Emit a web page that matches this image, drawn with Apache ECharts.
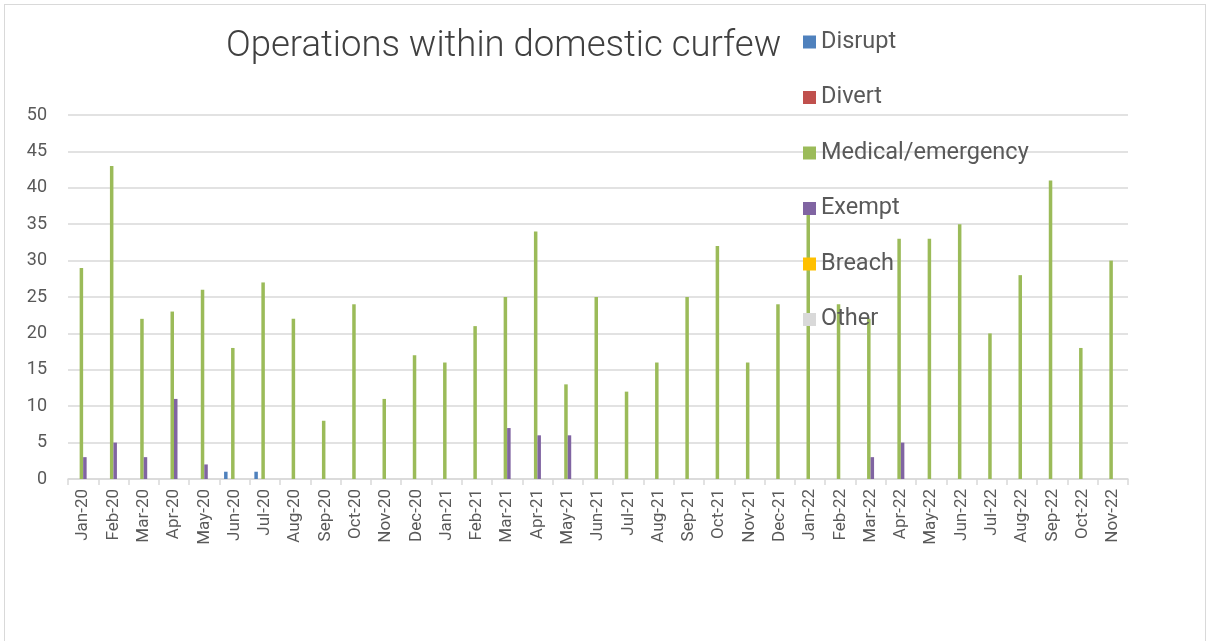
<!DOCTYPE html>
<html>
<head>
<meta charset="utf-8">
<script src="https://cdn.jsdelivr.net/npm/echarts@6/dist/echarts.min.js"></script>
<style>
html,body{margin:0;padding:0;background:#fff;overflow:hidden;}
#frame{position:absolute;left:4px;top:4px;width:1202px;height:700px;border:1px solid #d9d9d9;box-sizing:border-box;}
#chart{position:absolute;left:0;top:0;width:1208px;height:641px;}
</style>
</head>
<body>
<div id="frame"></div>
<div id="chart"></div>
<script>
const categories = ["Jan-20","Feb-20","Mar-20","Apr-20","May-20","Jun-20","Jul-20","Aug-20","Sep-20","Oct-20","Nov-20","Dec-20",
"Jan-21","Feb-21","Mar-21","Apr-21","May-21","Jun-21","Jul-21","Aug-21","Sep-21","Oct-21","Nov-21","Dec-21",
"Jan-22","Feb-22","Mar-22","Apr-22","May-22","Jun-22","Jul-22","Aug-22","Sep-22","Oct-22","Nov-22"];
const disrupt = [0,0,0,0,0,1,1,0,0,0,0,0, 0,0,0,0,0,0,0,0,0,0,0,0, 0,0,0,0,0,0,0,0,0,0,0];
const divert  = [0,0,0,0,0,0,0,0,0,0,0,0, 0,0,0,0,0,0,0,0,0,0,0,0, 0,0,0,0,0,0,0,0,0,0,0];
const medical = [29,43,22,23,26,18,27,22,8,24,11,17, 16,21,25,34,13,25,12,16,25,32,16,24, 37,24,22,33,33,35,20,28,41,18,30];
const exempt  = [3,5,3,11,2,0,0,0,0,0,0,0, 0,0,7,6,6,0,0,0,0,0,0,0, 0,0,3,5,0,0,0,0,0,0,0];
const breach  = [0,0,0,0,0,0,0,0,0,0,0,0, 0,0,0,0,0,0,0,0,0,0,0,0, 0,0,0,0,0,0,0,0,0,0,0];
const other   = [0,0,0,0,0,0,0,0,0,0,0,0, 0,0,0,0,0,0,0,0,0,0,0,0, 0,0,0,0,0,0,0,0,0,0,0];
const seriesNames = ["Disrupt","Divert","Medical/emergency","Exempt","Breach","Other"];
const seriesData = [disrupt, divert, medical, exempt, breach, other];
const colors = ["#4F81BD","#C0504D","#9BBB59","#8064A2","#FFC000","#D9D9D9"];
const yTicks = {min:0, max:50, interval:5};

const chart = echarts.init(document.getElementById('chart'), null, {renderer:'canvas'});
chart.setOption({
  animation:false,
  backgroundColor:'transparent',
  color: colors,
  title:{
    text:'Operations within domestic curfew',
    left:226, top:28, padding:0,
    textStyle:{fontFamily:'Roboto', fontWeight:300, fontSize:36.5, color:'#404040'}
  },
  legend:{
    orient:'vertical',
    left:803, top:30, padding:0,
    itemWidth:13, itemHeight:13, itemGap:31.5, itemTextGap:6,
    icon:'rect',
    data: seriesNames,
    textStyle:{fontFamily:'Roboto', fontSize:23.5, color:'#595959', lineHeight:23.5},
    z:10
  },
  grid:{left:68, right:80, top:115, bottom:162, containLabel:false},
  xAxis:{
    type:'category',
    data:categories,
    boundaryGap:true,
    axisLine:{show:true, lineStyle:{color:'#d9d9d9', width:1.5}},
    axisTick:{show:true, length:6, lineStyle:{color:'#d9d9d9', width:1.5}},
    axisLabel:{rotate:90, interval:0, margin:10, fontFamily:'Roboto', fontSize:17, color:'#595959'}
  },
  yAxis:{
    type:'value',
    min:yTicks.min, max:yTicks.max, interval:yTicks.interval,
    axisLine:{show:false},
    axisTick:{show:false},
    splitLine:{lineStyle:{color:'#d9d9d9', width:1.5}},
    axisLabel:{margin:21, fontFamily:'Roboto', fontSize:18, color:'#595959'}
  },
  series: seriesNames.map((n,i)=>({
    name:n, type:'bar', data:seriesData[i],
    barWidth:3.5, barGap:'0%',
    itemStyle:{color:colors[i]}
  }))
});
</script>
</body>
</html>
